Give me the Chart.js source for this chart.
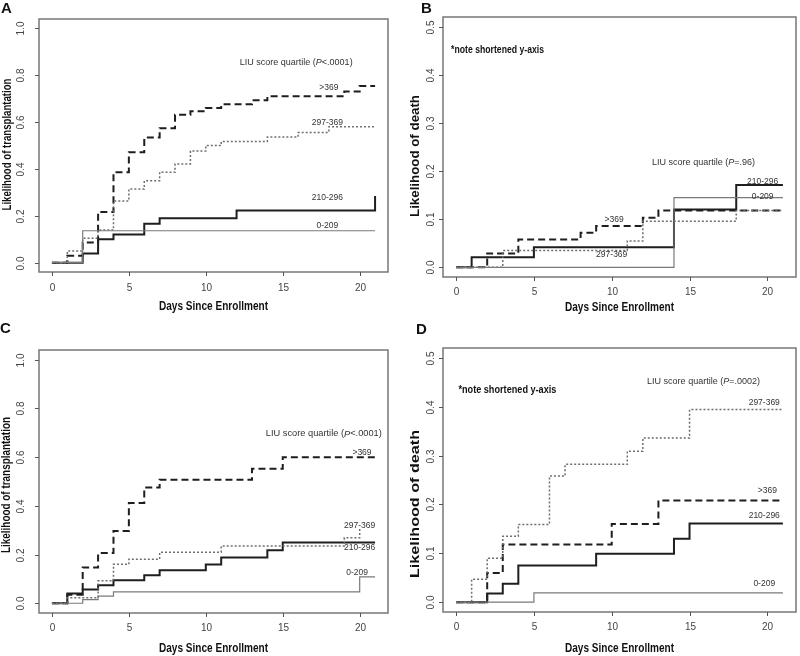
<!DOCTYPE html>
<html>
<head>
<meta charset="utf-8">
<script src="https://cdn.jsdelivr.net/npm/chart.js@4.4.1/dist/chart.umd.min.js"></script>
<style>
  body { margin: 0; background: #fff; width: 800px; height: 656px; position: relative; overflow: hidden; }
  canvas { position: absolute; }
</style>
</head>
<body>
<canvas id="panelA" width="400" height="320" style="left:0;top:0"></canvas>
<canvas id="panelB" width="400" height="320" style="left:400px;top:0"></canvas>
<canvas id="panelC" width="400" height="336" style="left:0;top:320px"></canvas>
<canvas id="panelD" width="400" height="336" style="left:400px;top:320px"></canvas>
<script>
// days since enrollment, one value per day (value after that day's step)
var days = [0, 1, 2, 3, 4, 5, 6, 7, 8, 9, 10, 11, 12, 13, 14, 15, 16, 17, 18, 19, 20, 21]
var xTicks = [0, 5, 10, 15, 20]
var yTicksTransplant = [0, 0.2, 0.4, 0.6, 0.8, 1.0]
var yTicksDeath = [0, 0.1, 0.2, 0.3, 0.4, 0.5]
var seriesNames = ['>369', '297-369', '210-296', '0-209']

// A: likelihood of transplantation
var aOver369 = [0, 0.029, 0.086, 0.216, 0.386, 0.471, 0.534, 0.574, 0.631, 0.646, 0.66, 0.676, 0.676, 0.693, 0.71, 0.71, 0.71, 0.71, 0.71, 0.731, 0.754, 0.754]
var a297to369 = [0, 0.05, 0.104, 0.139, 0.263, 0.314, 0.349, 0.386, 0.421, 0.476, 0.5, 0.517, 0.517, 0.517, 0.536, 0.536, 0.556, 0.556, 0.58, 0.58, 0.58, 0.58]
var a210to296 = [0, 0, 0.039, 0.1, 0.12, 0.12, 0.166, 0.189, 0.189, 0.189, 0.189, 0.189, 0.223, 0.223, 0.223, 0.223, 0.223, 0.223, 0.223, 0.223, 0.223, 0.284]
var a0to209 = [0, 0, 0.136, 0.136, 0.136, 0.136, 0.136, 0.136, 0.136, 0.136, 0.136, 0.136, 0.136, 0.136, 0.136, 0.136, 0.136, 0.136, 0.136, 0.136, 0.136, 0.136]

// B: likelihood of death
var bOver369 = [0, 0, 0.029, 0.029, 0.058, 0.058, 0.058, 0.058, 0.072, 0.086, 0.086, 0.086, 0.103, 0.118, 0.118, 0.118, 0.118, 0.118, 0.118, 0.118, 0.118, 0.118]
var b297to369 = [0, 0, 0, 0.035, 0.035, 0.035, 0.035, 0.035, 0.035, 0.035, 0.035, 0.055, 0.096, 0.096, 0.096, 0.096, 0.096, 0.096, 0.118, 0.118, 0.118, 0.118]
var b210to296 = [0, 0.021, 0.021, 0.021, 0.021, 0.042, 0.042, 0.042, 0.042, 0.042, 0.042, 0.042, 0.042, 0.042, 0.12, 0.12, 0.12, 0.12, 0.171, 0.171, 0.171, 0.171]
var b0to209 = [0, 0, 0, 0, 0, 0, 0, 0, 0, 0, 0, 0, 0, 0, 0.145, 0.145, 0.145, 0.145, 0.145, 0.145, 0.145, 0.145]

// C: likelihood of transplantation
var cOver369 = [0, 0.035, 0.147, 0.206, 0.297, 0.412, 0.475, 0.507, 0.507, 0.507, 0.507, 0.507, 0.507, 0.552, 0.552, 0.6, 0.6, 0.6, 0.6, 0.6, 0.6, 0.6]
var c297to369 = [0, 0.023, 0.023, 0.092, 0.16, 0.181, 0.181, 0.209, 0.209, 0.209, 0.209, 0.235, 0.235, 0.235, 0.235, 0.235, 0.235, 0.235, 0.235, 0.269, 0.308]
var c210to296 = [0, 0.04, 0.056, 0.074, 0.095, 0.095, 0.115, 0.136, 0.136, 0.136, 0.159, 0.188, 0.188, 0.188, 0.218, 0.25, 0.25, 0.25, 0.25, 0.25, 0.25, 0.25]
var c0to209 = [0, 0, 0.015, 0.029, 0.047, 0.047, 0.047, 0.047, 0.047, 0.047, 0.047, 0.047, 0.047, 0.047, 0.047, 0.047, 0.047, 0.047, 0.047, 0.047, 0.108, 0.108]

// D: likelihood of death
var dOver369 = [0, 0, 0.06, 0.118, 0.118, 0.118, 0.118, 0.118, 0.118, 0.118, 0.16, 0.16, 0.16, 0.208, 0.208, 0.208, 0.208, 0.208, 0.208, 0.208, 0.208, 0.208]
var d297to369 = [0, 0.047, 0.09, 0.135, 0.159, 0.159, 0.258, 0.282, 0.282, 0.282, 0.282, 0.309, 0.336, 0.336, 0.336, 0.394, 0.394, 0.394, 0.394, 0.394, 0.394, 0.394]
var d210to296 = [0, 0, 0.018, 0.038, 0.075, 0.075, 0.075, 0.075, 0.075, 0.099, 0.099, 0.099, 0.099, 0.099, 0.13, 0.161, 0.161, 0.161, 0.161, 0.161, 0.161, 0.161]
var d0to209 = [0, 0, 0, 0, 0, 0.019, 0.019, 0.019, 0.019, 0.019, 0.019, 0.019, 0.019, 0.019, 0.019, 0.019, 0.019, 0.019, 0.019, 0.019, 0.019, 0.019]

var FONT = '"Liberation Sans", Arial, sans-serif'
var INK = '#333'

// line look per quartile, same order as seriesNames
var lineStyles = [
  { color: '#1e1e1e', width: 2, dash: [7, 4] },
  { color: '#6e6e6e', width: 1.5, dash: [2, 2] },
  { color: '#1e1e1e', width: 2, dash: [] },
  { color: '#7a7a7a', width: 1.2, dash: [] }
]

function toPoints (values) {
  return values.map(function (v, i) { return { x: days[i], y: v } })
}

// draw text, optionally squeezed/stretched to a given length
function drawText (ctx, txt, x, y, font, len, rot, align) {
  ctx.save()
  ctx.translate(x, y)
  if (rot) ctx.rotate(rot)
  ctx.font = font
  var w = ctx.measureText(txt).width
  var s = len ? len / w : 1
  ctx.scale(s, 1)
  ctx.textAlign = align || 'center'
  ctx.textBaseline = 'middle'
  ctx.fillText(txt, 0, 0)
  ctx.restore()
}

// text with an italic P in the middle
function drawQuartileNote (ctx, parts, cx, cy, size, len) {
  ctx.save()
  var total = 0
  parts.forEach(function (p) {
    ctx.font = (p.italic ? 'italic ' : '') + size + 'px ' + FONT
    p.w = ctx.measureText(p.t).width
    total += p.w
  })
  var s = len ? len / total : 1
  ctx.translate(cx - total * s / 2, cy)
  ctx.scale(s, 1)
  ctx.textAlign = 'left'
  ctx.textBaseline = 'middle'
  var x = 0
  parts.forEach(function (p) {
    ctx.font = (p.italic ? 'italic ' : '') + size + 'px ' + FONT
    ctx.fillText(p.t, x, 0)
    x += p.w
  })
  ctx.restore()
}

var framePlugin = {
  id: 'frame',
  afterDraw: function (chart) {
    var cfg = chart.options.plugins.frame
    var ctx = chart.ctx
    var area = chart.chartArea
    var xs = chart.scales.x
    var ys = chart.scales.y

    ctx.save()
    // box
    ctx.strokeStyle = '#777'
    ctx.lineWidth = 1.5
    ctx.strokeRect(area.left, area.top, area.right - area.left, area.bottom - area.top)

    // tick marks and labels
    ctx.strokeStyle = '#555'
    ctx.lineWidth = 1
    ctx.fillStyle = '#444'
    xTicks.forEach(function (t) {
      var px = Math.round(xs.getPixelForValue(t)) + 0.5
      ctx.beginPath()
      ctx.moveTo(px, area.bottom)
      ctx.lineTo(px, area.bottom + 4)
      ctx.stroke()
      drawText(ctx, String(t), px, area.bottom + cfg.xTickGap, '10px ' + FONT)
    })
    cfg.yTicks.forEach(function (t) {
      var py = Math.round(ys.getPixelForValue(t)) + 0.5
      ctx.beginPath()
      ctx.moveTo(area.left, py)
      ctx.lineTo(area.left - 4, py)
      ctx.stroke()
      drawText(ctx, t.toFixed(1), area.left - cfg.yTickGap, py, '10px ' + FONT, 0, -Math.PI / 2)
    })

    // axis titles
    ctx.fillStyle = '#111'
    var midX = (area.left + area.right) / 2
    var midY = (area.top + area.bottom) / 2
    drawText(ctx, 'Days Since Enrollment', midX, area.bottom + cfg.xTitleGap, 'bold 12px ' + FONT, 109)
    drawText(ctx, cfg.yTitle, area.left - cfg.yTitleGap, midY + cfg.yTitleShift, 'bold 13px ' + FONT, cfg.yTitleLen, -Math.PI / 2)

    // panel letter
    ctx.font = 'bold 15px ' + FONT
    ctx.textAlign = 'left'
    ctx.textBaseline = 'alphabetic'
    ctx.fillText(cfg.letter, cfg.letterPos[0], cfg.letterPos[1])

    // note about y-axis
    if (cfg.notePos) {
      drawText(ctx, '*note shortened y-axis', xs.getPixelForValue(cfg.notePos[0]), ys.getPixelForValue(cfg.notePos[1]),
        'bold 11px ' + FONT, cfg.noteLen, 0, 'left')
    }

    // quartile heading and series labels
    ctx.fillStyle = INK
    drawQuartileNote(ctx, [{ t: 'LIU score quartile (' }, { t: 'P', italic: true }, { t: cfg.pText + ')' }],
      xs.getPixelForValue(cfg.headPos[0]), ys.getPixelForValue(cfg.headPos[1]), 9, cfg.headLen)
    cfg.labelPos.forEach(function (p, i) {
      drawText(ctx, seriesNames[i], xs.getPixelForValue(p[0]), ys.getPixelForValue(p[1]), '8.5px ' + FONT)
    })
    ctx.restore()
  }
}

function makePanel (id, series, yMax, yTicks, padding, frame) {
  frame.yTicks = yTicks
  var pad = yMax * 0.04
  var order = [3, 1, 2, 0]
  var datasets = order.map(function (i) {
    var st = lineStyles[i]
    return {
      label: seriesNames[i],
      data: toPoints(series[i]),
      stepped: 'before',
      borderColor: st.color,
      borderWidth: st.width,
      borderDash: st.dash,
      borderCapStyle: 'butt',
      pointRadius: 0,
      fill: false
    }
  })
  return new Chart(document.getElementById(id), {
    type: 'line',
    data: { datasets: datasets },
    options: {
      responsive: false,
      animation: false,
      events: [],
      layout: { padding: padding },
      plugins: { legend: { display: false }, tooltip: { enabled: false }, frame: frame },
      scales: {
        x: { type: 'linear', min: -0.84, max: 21.84, display: false },
        y: { type: 'linear', min: -pad, max: yMax + pad, display: false }
      }
    },
    plugins: [framePlugin]
  })
}

makePanel('panelA', [aOver369, a297to369, a210to296, a0to209], 1.0, yTicksTransplant,
  { left: 39, top: 19, right: 12, bottom: 48 },
  { letter: 'A', letterPos: [1, 13], yTitle: 'Likelihood of transplantation', yTitleLen: 132, yTitleGap: 32, yTitleShift: -1,
    xTickGap: 16, yTickGap: 18, xTitleGap: 35, pText: '<.0001', headPos: [15.87, 0.854], headLen: 113,
    labelPos: [[18.0, 0.747], [17.9, 0.598], [17.9, 0.276], [17.9, 0.156]] })

makePanel('panelB', [bOver369, b297to369, b210to296, b0to209], 0.5, yTicksDeath,
  { left: 43, top: 17, right: 4, bottom: 43 },
  { letter: 'B', letterPos: [21, 13], yTitle: 'Likelihood of death', yTitleLen: 122, yTitleGap: 27.5, yTitleShift: 9,
    xTickGap: 15, yTickGap: 11.5, xTitleGap: 31, pText: '=.96', headPos: [15.9, 0.218], headLen: 103,
    notePos: [-0.32, 0.452], noteLen: 93,
    labelPos: [[10.15, 0.099], [10.0, 0.026], [19.7, 0.179], [19.7, 0.147]] })

makePanel('panelC', [cOver369, c297to369, c210to296, c0to209], 1.0, yTicksTransplant,
  { left: 39, top: 30, right: 12, bottom: 43 },
  { letter: 'C', letterPos: [0, 13], yTitle: 'Likelihood of transplantation', yTitleLen: 136, yTitleGap: 33, yTitleShift: 3.5,
    xTickGap: 15.5, yTickGap: 18, xTitleGap: 36, pText: '<.0001', headPos: [17.67, 0.695], headLen: 116,
    labelPos: [[20.15, 0.62], [20.0, 0.317], [20.0, 0.227], [19.83, 0.126]] })

makePanel('panelD', [dOver369, d297to369, d210to296, d0to209], 0.5, yTicksDeath,
  { left: 43, top: 28, right: 4, bottom: 44 },
  { letter: 'D', letterPos: [16, 14], yTitle: 'Likelihood of death', yTitleLen: 148, yTitleGap: 27.5, yTitleShift: 24,
    xTickGap: 15, yTickGap: 11.5, xTitleGap: 37, pText: '=.0002', headPos: [15.9, 0.451], headLen: 113,
    notePos: [0.15, 0.434], noteLen: 98,
    labelPos: [[20.0, 0.228], [19.8, 0.408], [19.8, 0.178], [19.8, 0.038]] })
</script>
</body>
</html>
